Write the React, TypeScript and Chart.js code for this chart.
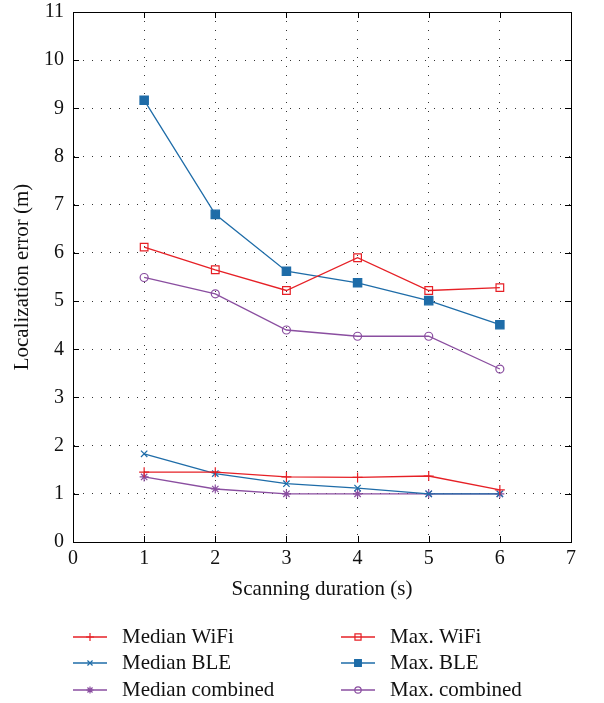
import React, { useEffect, useRef } from "react";
import { Chart, registerables } from "chart.js";
import { drawPoint } from "chart.js/helpers";

Chart.register(...registerables);

const xValues = [1, 2, 3, 4, 5, 6];
const medianWifi = [1.45, 1.45, 1.35, 1.34, 1.37, 1.08];
const medianBle = [1.83, 1.42, 1.21, 1.12, 1.0, 1.0];
const medianCombined = [1.35, 1.1, 1.0, 1.0, 1.0, 1.0];
const maxWifi = [6.12, 5.65, 5.22, 5.9, 5.22, 5.28];
const maxBle = [9.17, 6.8, 5.62, 5.38, 5.01, 4.51];
const maxCombined = [5.49, 5.15, 4.4, 4.27, 4.27, 3.59];

const seriesNames = [
  "Median WiFi",
  "Median BLE",
  "Median combined",
  "Max. WiFi",
  "Max. BLE",
  "Max. combined",
];

const RED = "rgb(230,32,38)";
const BLUE = "rgb(30,108,168)";
const PURPLE = "rgb(138,78,160)";
const FONT = "'Liberation Serif', 'Times New Roman', serif";

const toPoints = (ys: number[]) => ys.map((y, i) => ({ x: xValues[i], y }));

const frameAndTicks = {
  id: "frameAndTicks",
  afterDatasetsDraw(chart: any) {
    const { ctx, chartArea } = chart;
    const { left, right, top, bottom } = chartArea;
    const xs = chart.scales.x;
    const ys = chart.scales.y;
    ctx.save();
    ctx.strokeStyle = "#000";
    ctx.lineWidth = 1;
    ctx.setLineDash([]);
    const L = 6;
    ctx.beginPath();
    xs.ticks.forEach((t: any) => {
      const px = Math.round(xs.getPixelForValue(t.value)) + 0.5;
      ctx.moveTo(px, bottom);
      ctx.lineTo(px, bottom - L);
      ctx.moveTo(px, top);
      ctx.lineTo(px, top + L);
    });
    ys.ticks.forEach((t: any) => {
      const py = Math.round(ys.getPixelForValue(t.value)) + 0.5;
      ctx.moveTo(left, py);
      ctx.lineTo(left + L, py);
      ctx.moveTo(right, py);
      ctx.lineTo(right - L, py);
    });
    ctx.stroke();
    ctx.strokeRect(Math.round(left) + 0.5, Math.round(top) + 0.5, Math.round(right - left), Math.round(bottom - top));
    ctx.restore();
  },
};

const customLegend = {
  id: "customLegend",
  afterDraw(chart: any) {
    const { ctx } = chart;
    const rowsY = [637, 663, 690];
    const colLineX = [73, 341];
    const lineLen = 34;
    const textGap = 15;
    ctx.save();
    chart.data.datasets.forEach((ds: any, i: number) => {
      const col = Math.floor(i / 3);
      const row = i % 3;
      const y = rowsY[row];
      const x0 = colLineX[col];
      ctx.strokeStyle = ds.borderColor;
      ctx.lineWidth = 1.4;
      ctx.setLineDash([]);
      ctx.beginPath();
      ctx.moveTo(x0, y);
      ctx.lineTo(x0 + lineLen, y);
      ctx.stroke();
      ctx.fillStyle = ds.pointBackgroundColor;
      ctx.strokeStyle = ds.borderColor;
      ctx.lineWidth = 1.2;
      drawPoint(
        ctx,
        {
          pointStyle: ds.pointStyle,
          radius: ds.pointRadius * 0.8,
          rotation: 0,
          borderWidth: 1.2,
        },
        x0 + lineLen / 2,
        y
      );
      ctx.fillStyle = "#111";
      ctx.font = `21px ${FONT}`;
      ctx.textBaseline = "middle";
      ctx.textAlign = "left";
      ctx.fillText(ds.label, x0 + lineLen + textGap, y);
    });
    ctx.restore();
  },
};

export default function App() {
  const canvasRef = useRef<HTMLCanvasElement | null>(null);

  useEffect(() => {
    document.body.style.margin = "0";
    const canvas = canvasRef.current;
    if (!canvas) return;
    const mk = (
      label: string,
      ys: number[],
      color: string,
      pointStyle: string,
      radius: number,
      fill: string
    ) => ({
      label,
      data: toPoints(ys),
      borderColor: color,
      backgroundColor: color,
      pointBorderColor: color,
      pointBackgroundColor: fill,
      pointStyle,
      pointRadius: radius,
      pointBorderWidth: 1.2,
      borderWidth: 1.3,
      tension: 0,
      fill: false,
    });
    const chart = new Chart(canvas, {
      type: "line",
      data: {
        datasets: [
          mk(seriesNames[0], medianWifi, RED, "cross", 5, RED),
          mk(seriesNames[1], medianBle, BLUE, "crossRot", 4.5, BLUE),
          mk(seriesNames[2], medianCombined, PURPLE, "star", 4.5, PURPLE),
          mk(seriesNames[3], maxWifi, RED, "rect", 5.4, "rgba(0,0,0,0)"),
          mk(seriesNames[4], maxBle, BLUE, "rect", 5.9, BLUE),
          mk(seriesNames[5], maxCombined, PURPLE, "circle", 4, "rgba(0,0,0,0)"),
        ] as any,
      },
      options: {
        animation: false,
        responsive: false,
        maintainAspectRatio: false,
        layout: { padding: { top: 12, right: 33, bottom: 99, left: 0 } },
        plugins: {
          legend: { display: false },
          tooltip: { enabled: false },
        },
        scales: {
          x: {
            type: "linear",
            min: 0,
            max: 7,
            ticks: {
              stepSize: 1,
              color: "#111",
              font: { family: FONT, size: 20 },
              padding: 5,
              maxRotation: 0,
            },
            grid: { color: "#333", lineWidth: 1, drawTicks: false },
            border: { display: true, color: "#000", dash: [1, 8] },
            title: {
              display: true,
              text: "Scanning duration (s)",
              color: "#111",
              font: { family: FONT, size: 21 },
              padding: { top: 0, bottom: 2 },
            },
            afterFit: (s: any) => {
              s.height = 62;
              s.paddingLeft = 0;
              s.paddingRight = 0;
            },
          },
          y: {
            type: "linear",
            min: 0,
            max: 11,
            ticks: {
              stepSize: 1,
              color: "#111",
              font: { family: FONT, size: 20 },
              padding: 9,
            },
            grid: { color: "#333", lineWidth: 1, drawTicks: false },
            border: { display: true, color: "#000", dash: [1, 8] },
            title: {
              display: true,
              text: "Localization error (m)",
              color: "#111",
              font: { family: FONT, size: 21 },
              padding: { top: 10, bottom: 0 },
            },
            afterFit: (s: any) => {
              s.width = 73;
              s.paddingTop = 0;
              s.paddingBottom = 0;
            },
          },
        },
      } as any,
      plugins: [frameAndTicks, customLegend],
    });
    return () => chart.destroy();
  }, []);

  return (
    <div style={{ width: 604, height: 703 }}>
      <canvas ref={canvasRef} width={604} height={703} style={{ display: "block" }} />
    </div>
  );
}
